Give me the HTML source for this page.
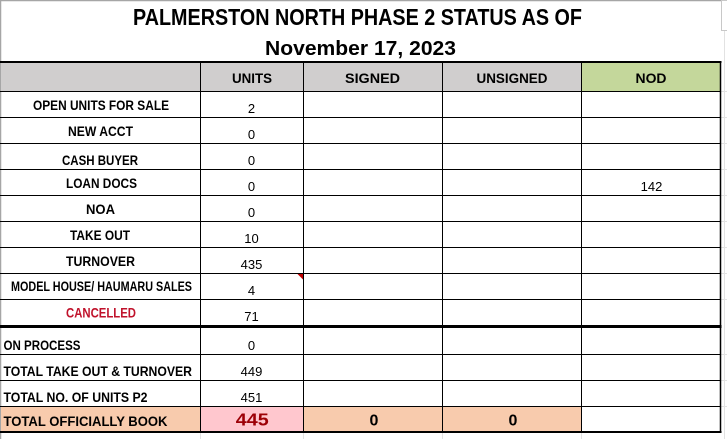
<!DOCTYPE html>
<html>
<head>
<meta charset="utf-8">
<style>
  html, body { margin:0; padding:0; background:#fff; }
  body { width:727px; height:439px; overflow:hidden; }
  svg { display:block; }
  text { font-family: "Liberation Sans", Arial, sans-serif; }
  .t { font-weight:bold; fill:#000; }
  .lb { font-weight:bold; font-size:13.5px; fill:#000; }
  .v { font-size:13px; fill:#000; }
  .h { font-weight:bold; font-size:14px; fill:#000; }
</style>
</head>
<body>
<svg width="727" height="439" viewBox="0 0 727 439" xmlns="http://www.w3.org/2000/svg">
  <rect x="0" y="0" width="727" height="439" fill="#fff"/>

  <!-- screenshot frame -->
  <line x1="0" y1="0.5" x2="721" y2="0.5" stroke="#a6a6a6" stroke-width="1.5"/>
  <line x1="0.5" y1="0" x2="0.5" y2="439" stroke="#a6a6a6" stroke-width="1.5"/>
  <rect x="721.5" y="0.5" width="6" height="30" fill="#fff" stroke="#c8c8c8" stroke-width="1"/>

  <!-- excel gridlines in margin -->
  <line x1="724.5" y1="31" x2="724.5" y2="439" stroke="#e2e2e2" stroke-width="1"/>
  <g stroke="#e2e2e2" stroke-width="1">
    <line x1="721" y1="91.5" x2="727" y2="91.5"/>
    <line x1="721" y1="117.5" x2="727" y2="117.5"/>
    <line x1="721" y1="143.5" x2="727" y2="143.5"/>
    <line x1="721" y1="169.5" x2="727" y2="169.5"/>
    <line x1="721" y1="195.5" x2="727" y2="195.5"/>
    <line x1="721" y1="221.5" x2="727" y2="221.5"/>
    <line x1="721" y1="247.5" x2="727" y2="247.5"/>
    <line x1="721" y1="273.5" x2="727" y2="273.5"/>
    <line x1="721" y1="299.5" x2="727" y2="299.5"/>
    <line x1="721" y1="354.5" x2="727" y2="354.5"/>
    <line x1="721" y1="380.5" x2="727" y2="380.5"/>
    <line x1="721" y1="406.5" x2="727" y2="406.5"/>
    <line x1="200.5" y1="433" x2="200.5" y2="439"/>
    <line x1="303.5" y1="433" x2="303.5" y2="439"/>
    <line x1="442.5" y1="433" x2="442.5" y2="439"/>
    <line x1="581.5" y1="433" x2="581.5" y2="439"/>
  </g>

  <!-- title -->
  <text class="t" x="133" y="25" font-size="23" textLength="449" lengthAdjust="spacingAndGlyphs">PALMERSTON NORTH PHASE 2 STATUS AS OF</text>
  <text class="t" x="265" y="55" font-size="20" textLength="191" lengthAdjust="spacingAndGlyphs">November 17, 2023</text>

  <!-- header fills -->
  <rect x="1" y="63" width="580" height="28" fill="#D0CECE"/>
  <rect x="581" y="63" width="139" height="28" fill="#C4D79B"/>

  <!-- bottom row fills -->
  <rect x="1" y="406" width="199" height="25" fill="#F8CBAD"/>
  <rect x="200" y="406" width="103" height="25" fill="#FFC7CE"/>
  <rect x="303" y="406" width="278" height="25" fill="#F8CBAD"/>

  <!-- horizontal lines -->
  <g stroke="#000" stroke-width="1">
    <line x1="0" y1="91.5" x2="721" y2="91.5"/>
    <line x1="0" y1="117.5" x2="721" y2="117.5"/>
    <line x1="0" y1="143.5" x2="721" y2="143.5"/>
    <line x1="0" y1="169.5" x2="721" y2="169.5"/>
    <line x1="0" y1="195.5" x2="721" y2="195.5"/>
    <line x1="0" y1="221.5" x2="721" y2="221.5"/>
    <line x1="0" y1="247.5" x2="721" y2="247.5"/>
    <line x1="0" y1="273.5" x2="721" y2="273.5"/>
    <line x1="0" y1="299.5" x2="721" y2="299.5"/>
    <line x1="0" y1="354.5" x2="721" y2="354.5"/>
    <line x1="0" y1="380.5" x2="721" y2="380.5"/>
    <line x1="0" y1="406.5" x2="721" y2="406.5"/>
  </g>
  <rect x="0" y="61" width="721.5" height="2" fill="#000"/>
  <rect x="0" y="325" width="721.5" height="3" fill="#000"/>
  <rect x="0" y="431" width="721.5" height="2" fill="#000"/>

  <!-- vertical lines -->
  <g stroke="#000" stroke-width="1">
    <line x1="200.5" y1="61" x2="200.5" y2="433"/>
    <line x1="303.5" y1="61" x2="303.5" y2="433"/>
    <line x1="442.5" y1="61" x2="442.5" y2="433"/>
    <line x1="581.5" y1="61" x2="581.5" y2="433"/>
  </g>
  <line x1="720.5" y1="61" x2="720.5" y2="433" stroke="#000" stroke-width="1.5"/>

  <!-- comment indicator -->
  <polygon points="297.5,274 303,274 303,279.5" fill="#C00000"/>

  <!-- header text -->
  <text class="h" x="252" y="83" text-anchor="middle" textLength="40" lengthAdjust="spacingAndGlyphs">UNITS</text>
  <text class="h" x="372.5" y="83" text-anchor="middle" textLength="55" lengthAdjust="spacingAndGlyphs">SIGNED</text>
  <text class="h" x="512" y="83" text-anchor="middle" textLength="71" lengthAdjust="spacingAndGlyphs">UNSIGNED</text>
  <text class="h" x="651" y="83" text-anchor="middle" textLength="31" lengthAdjust="spacingAndGlyphs">NOD</text>

  <!-- labels -->
  <text class="lb" x="33" y="110" textLength="136" lengthAdjust="spacingAndGlyphs">OPEN UNITS FOR SALE</text>
  <text class="lb" x="68" y="136" textLength="65" lengthAdjust="spacingAndGlyphs">NEW ACCT</text>
  <text class="lb" x="62" y="165" textLength="76" lengthAdjust="spacingAndGlyphs">CASH BUYER</text>
  <text class="lb" x="66" y="188" textLength="71" lengthAdjust="spacingAndGlyphs">LOAN DOCS</text>
  <text class="lb" x="86" y="214" textLength="29" lengthAdjust="spacingAndGlyphs">NOA</text>
  <text class="lb" x="70" y="240" textLength="60" lengthAdjust="spacingAndGlyphs">TAKE OUT</text>
  <text class="lb" x="66" y="266" textLength="69" lengthAdjust="spacingAndGlyphs">TURNOVER</text>
  <text class="lb" x="11" y="291" font-size="12.5" textLength="181" lengthAdjust="spacingAndGlyphs">MODEL HOUSE/ HAUMARU SALES</text>
  <text class="lb" x="66" y="317.5" textLength="70" lengthAdjust="spacingAndGlyphs" style="fill:#C0122B">CANCELLED</text>
  <text class="lb" x="3.5" y="350" textLength="77" lengthAdjust="spacingAndGlyphs">ON PROCESS</text>
  <text class="lb" x="3.5" y="376" textLength="188.5" lengthAdjust="spacingAndGlyphs">TOTAL TAKE OUT &amp; TURNOVER</text>
  <text class="lb" x="3.5" y="402" textLength="144" lengthAdjust="spacingAndGlyphs">TOTAL NO. OF UNITS P2</text>
  <text class="lb" x="3.5" y="426" font-size="15" textLength="164" lengthAdjust="spacingAndGlyphs">TOTAL OFFICIALLY BOOK</text>

  <!-- values -->
  <text class="v" x="251.5" y="113" text-anchor="middle">2</text>
  <text class="v" x="251.5" y="139" text-anchor="middle">0</text>
  <text class="v" x="251.5" y="165" text-anchor="middle">0</text>
  <text class="v" x="251.5" y="191" text-anchor="middle">0</text>
  <text class="v" x="251.5" y="217" text-anchor="middle">0</text>
  <text class="v" x="251.5" y="243" text-anchor="middle">10</text>
  <text class="v" x="251.5" y="269" text-anchor="middle">435</text>
  <text class="v" x="251.5" y="295" text-anchor="middle">4</text>
  <text class="v" x="251.5" y="321" text-anchor="middle">71</text>
  <text class="v" x="251.5" y="350" text-anchor="middle">0</text>
  <text class="v" x="251.5" y="376" text-anchor="middle">449</text>
  <text class="v" x="251.5" y="402" text-anchor="middle">451</text>
  <text class="v" x="651.5" y="191" text-anchor="middle">142</text>

  <text x="252.3" y="425.5" text-anchor="middle" font-size="17.5" font-weight="bold" fill="#9C0006" textLength="33" lengthAdjust="spacingAndGlyphs">445</text>
  <text x="374" y="425.5" text-anchor="middle" font-size="16" font-weight="bold" fill="#000">0</text>
  <text x="513" y="425.5" text-anchor="middle" font-size="16" font-weight="bold" fill="#000">0</text>
</svg>
</body>
</html>
